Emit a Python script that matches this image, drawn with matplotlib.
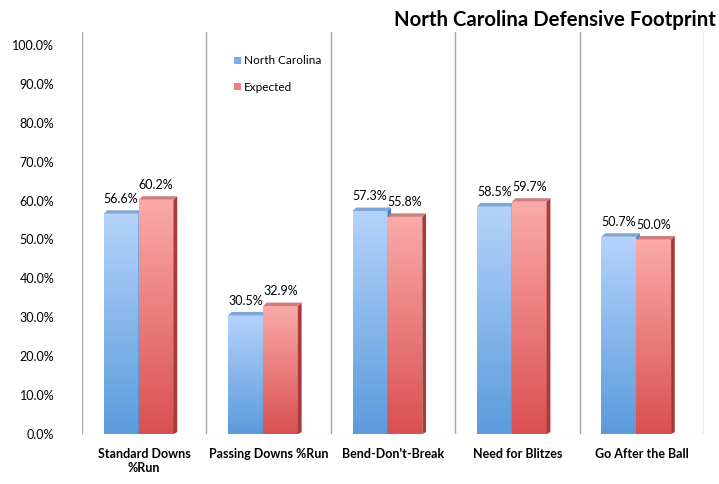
import matplotlib
matplotlib.use('Agg')

import numpy as np
import matplotlib.pyplot as plt
from matplotlib.patches import Patch, Polygon
from matplotlib.colors import LinearSegmentedColormap

categories = ["Standard Downs\n%Run", "Passing Downs %Run", "Bend-Don't-Break",
              "Need for Blitzes", "Go After the Ball"]
north_carolina = [56.6, 30.5, 57.3, 58.5, 50.7]
expected = [60.2, 32.9, 55.8, 59.7, 50.0]
series_names = ["North Carolina", "Expected"]
y_ticks = [0, 10, 20, 30, 40, 50, 60, 70, 80, 90, 100]

plt.rcParams['font.family'] = ['Lato', 'DejaVu Sans']

fig = plt.figure(figsize=(7.19, 4.84), dpi=100)
ax = fig.add_axes([0.114, 0.103, 0.865, 0.831])

width = 0.28
offsets = [-0.185, 0.096]
depth_x, depth_y = 0.03, 0.9

blue_cmap = LinearSegmentedColormap.from_list('blue', ['#b4d3fb', '#5b9bdc'])
red_cmap = LinearSegmentedColormap.from_list('red', ['#fbaaaa', '#da5050'])
grad = np.linspace(0, 1, 256).reshape(-1, 1)


def draw_bar(x, h, cmap, side, top):
    x0, x1 = x - width / 2, x + width / 2
    # light colour at the top of the bar, darker toward the floor
    im = ax.imshow(grad, cmap=cmap, aspect='auto', extent=(x0, x1, 0, h),
                   origin='upper', zorder=3, interpolation='bicubic')
    clip = Polygon([(x0, 0), (x1, 0), (x1, h), (x0, h)], closed=True,
                   transform=ax.transData, facecolor='none', edgecolor='none')
    ax.add_patch(clip)
    im.set_clip_path(clip)
    ax.add_patch(Polygon([(x1, 0), (x1 + depth_x, depth_y * 0.6), (x1 + depth_x, h + depth_y),
                          (x1, h)], closed=True, facecolor=side, edgecolor='none', zorder=3))
    ax.add_patch(Polygon([(x0, h), (x1, h), (x1 + depth_x, h + depth_y),
                          (x0 + depth_x, h + depth_y)], closed=True,
                         facecolor=top, edgecolor='none', zorder=3))


xs = np.arange(len(categories))
for i in xs:
    draw_bar(i + offsets[0], north_carolina[i], blue_cmap, '#4a7fb8', '#7fa6d6')
    draw_bar(i + offsets[1], expected[i], red_cmap, '#a83c3c', '#cf7d7d')
    ax.text(i + offsets[0], north_carolina[i] + 2.2, f"{north_carolina[i]:.1f}%",
            ha='center', va='bottom', fontsize=9)
    ax.text(i + offsets[1], expected[i] + 2.2, f"{expected[i]:.1f}%",
            ha='center', va='bottom', fontsize=9)

for b in np.arange(-0.5, len(categories) + 0.5, 1):
    ax.axvline(b, color='#a6a6a6', lw=1, zorder=1)
ax.axhline(0, color='#c8c8c8', lw=0.8, zorder=1)

ax.set_xlim(-0.5, len(categories) - 0.5)
ax.set_ylim(0, 103.3)
ax.set_yticks(y_ticks)
ax.set_yticklabels([f"{t:.1f}%" for t in y_ticks], fontsize=9)
ax.set_xticks(xs)
ax.set_xticklabels(categories, fontsize=9, fontweight='bold')
ax.tick_params(length=0)
ax.tick_params(axis='y', pad=20)
ax.tick_params(axis='x', pad=10)
for s in ax.spines.values():
    s.set_visible(False)

handles = [Patch(facecolor='#7aaee9'), Patch(facecolor='#ee7f7f')]
ax.legend(handles, series_names, loc='upper left', bbox_to_anchor=(0.228, 0.968),
          frameon=False, fontsize=8.5, handlelength=0.6, handleheight=0.6,
          handletextpad=0.2, labelspacing=1.3)

fig.text(0.996, 0.958, "North Carolina Defensive Footprint", ha='right', va='center',
         fontsize=14.7, fontweight='bold')

plt.savefig('out.png', dpi=100)
